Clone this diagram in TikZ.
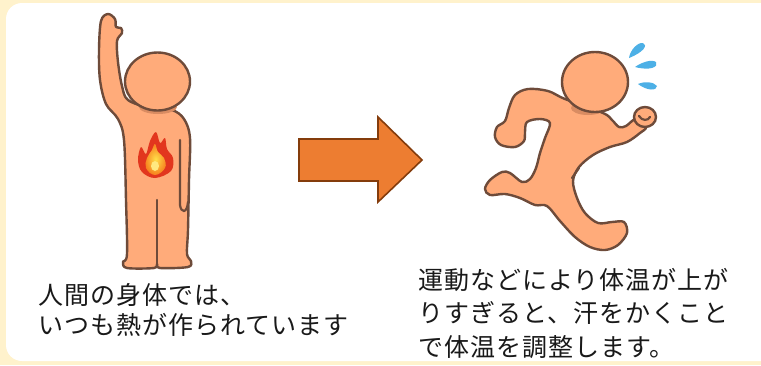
\documentclass[tikz,border=0pt]{standalone}
\usepackage{fontspec}
\newfontfamily\jpfont{Noto Sans CJK JP}[LetterSpace=4]
\usetikzlibrary{calc}
\definecolor{cream}{HTML}{FFF2CC}
\definecolor{skin}{HTML}{FFAB7A}
\definecolor{skinshade}{HTML}{D98C62}
\definecolor{outline}{HTML}{6E4B3A}
\definecolor{sweat}{HTML}{4DB0E6}
\definecolor{arrowfill}{HTML}{ED7D31}
\definecolor{arrowedge}{HTML}{843C0C}
\definecolor{flamered}{HTML}{E2361E}
\definecolor{flameorange}{HTML}{F7801E}
\definecolor{flameyellow}{HTML}{FFE04A}
\tikzset{
  body/.style={fill=skin, draw=outline, line width=2.4pt, line join=round, line cap=round},
  crease/.style={draw=outline, line width=2.2pt, line cap=round},
  caption/.style={anchor=base west, inner sep=0pt, font=\jpfont\fontsize{25}{30}\selectfont, text=black!90},
}
\begin{document}
\begin{tikzpicture}[x=1pt,y=-1pt]
  % page and white panel
  \fill[cream] (0,0) rectangle (761,365);
  \useasboundingbox (0,0) rectangle (761,365);
  \fill[white, rounded corners=16pt] (6,3) rectangle (800,361);

  % ---------- standing figure ----------
  \draw[body] plot[smooth cycle, tension=0.55] coordinates {
    (101,21) (108,14) (115,19) (116,27) (121,28) (122,33) (117,41)
    (118,62) (122,86) (128,100) (150,108) (172,110) (184,119) (190,138)
    (189,180) (188,230) (187,254) (191,261) (188,267) (160,268) (157,264)
    (154,268) (127,268) (123,262) (127,254) (126,200) (124,140) (118,119)
    (106,104) (100,80) (99,50)};
  \fill[skinshade] (158,107) ellipse[x radius=19, y radius=7];
  \draw[crease] (180,140) -- (180,205) .. controls (181,213) and (187,214) .. (188,202);
  \draw[crease] (157,200) -- (157,264);
  \draw[body] (157.5,81.5) ellipse[x radius=32.5, y radius=29];

  % flame in the chest
  \fill[flamered] plot[smooth cycle, tension=0.6] coordinates {
    (155,178) (142,172) (138,160) (141,147) (146,154) (150,141) (156,132)
    (160,143) (165,138) (167,149) (173,158) (171,171)};
  \shade[inner color=flameyellow, outer color=flameorange] plot[smooth cycle, tension=0.7] coordinates {
    (155,175) (146,168) (147,158) (152,150) (155,144) (158,152) (164,158) (165,168)};
  \fill[flameyellow!70!white] (155,166) ellipse[x radius=4, y radius=5];

  % ---------- arrow ----------
  \draw[fill=arrowfill, draw=arrowedge, line width=1.6pt, line join=miter]
    (299,139) -- (378,139) -- (378,117) -- (422,160) -- (378,202) -- (378,181) -- (299,181) -- cycle;

  % ---------- running figure ----------
  \draw[body] plot[smooth cycle, tension=0.55] coordinates {
    (565,99) (548,91) (528,89) (515,95) (509,108) (505,121) (497,127) (495,137)
    (501,145) (515,147) (524,141) (525,132) (527,122) (540,119) (550,123)
    (545,138) (540,153) (536,168) (530,179) (522,182) (510,173) (502,172)
    (490,180) (485,189) (490,195) (505,194) (520,198) (535,205) (547,206)
    (560,221) (575,237) (590,247) (605,250) (618,245) (627,233) (624,222)
    (612,222) (598,223) (585,213) (577,198) (573,181) (579,167) (593,155)
    (610,147) (627,142) (640,133) (646,127) (636,119) (626,126) (619,127)
    (612,120) (603,113)};
  \draw[body] (645,117) ellipse[x radius=11, y radius=10];
  \draw[crease] (639,116) .. controls (642,121) and (648,121) .. (650,117);
  \draw[crease] (572,178) -- (579,168);
  \fill[skinshade] (588,108) ellipse[x radius=17, y radius=7];
  \draw[body] (595,82) ellipse[x radius=33, y radius=30];

  % sweat drops
  \fill[sweat] (629,58) .. controls (630,50) and (638,42) .. (643,43)
    .. controls (648,45) and (644,52) .. (629,58) -- cycle;
  \fill[sweat] (635,67) .. controls (642,62) and (652,59) .. (656,62)
    .. controls (659,67) and (650,71) .. (635,67) -- cycle;
  \fill[sweat] (638,84) .. controls (645,81) and (654,82) .. (657,86)
    .. controls (657,91) and (647,91) .. (638,84) -- cycle;

  % ---------- captions ----------
  \node[caption] (capA1) at (38,304) {人間の身体では、};
  \node[caption] (capA2) at (38,334) {いつも熱が作られています};
  \node[caption] (capB1) at (418,289) {運動などにより体温が上が};
  \node[caption] (capB2) at (418,322) {りすぎると、汗をかくこと};
  \node[caption] (capB3) at (418,356) {で体温を調整します。};
\end{tikzpicture}
\end{document}
